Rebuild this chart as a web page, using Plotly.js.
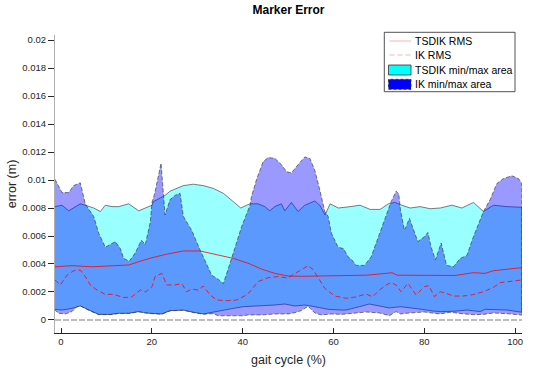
<!DOCTYPE html>
<html>
<head>
<meta charset="utf-8">
<script src="https://cdn.plot.ly/plotly-3.0.1.min.js"></script>
<style>html,body{margin:0;padding:0;background:#fff;}#chart{width:537px;height:375px;}</style>
</head>
<body>
<div id="chart"></div>
<script>
// ---- data (gait cycle %, error in m) ----
const gTsMax = [-1.32,0.22,1.70,3.15,4.25,5.35,7.20,8.66,9.76,11.23,12.71,14.91,17.11,18.57,20.04,20.33,22.91,24.01,26.94,29.14,31.34,33.55,35.75,37.95,39.58,40.90,41.63,43.39,44.87,45.97,47.07,48.52,49.27,50.73,52.20,53.68,55.88,56.98,58.15,59.25,61.08,63.66,65.86,68.06,70.26,72.09,73.50,75.04,76.87,79.07,81.28,83.48,86.06,88.26,90.81,93.02,95.22,98.17,101.48];
const tsdikMax = [0.0081,0.0082,0.0078,0.0081,0.0083,0.0082,0.0080,0.00775,0.0082,0.0081,0.0081,0.0083,0.0078,0.0080,0.0082,0.00845,0.0089,0.0092,0.0096,0.0097,0.0096,0.0094,0.00905,0.00845,0.0080,0.0082,0.0083,0.0083,0.0081,0.0078,0.0081,0.0083,0.0078,0.0084,0.00775,0.0082,0.0085,0.0082,0.0075,0.0083,0.0080,0.0081,0.0082,0.0079,0.0079,0.0083,0.0084,0.0082,0.0080,0.0081,0.00795,0.0080,0.0082,0.0080,0.0084,0.00775,0.0082,0.0081,0.00805];

const gTsMin = [-1.32,0.22,2.42,4.25,6.10,8.30,10.86,12.71,14.91,17.11,18.57,19.60,22.18,24.01,26.94,29.14,31.34,33.55,35.75,37.95,40.15,41.19,44.12,47.07,49.27,51.48,53.68,55.88,58.81,61.74,62.78,65.70,67.91,70.11,72.31,74.74,77.00,79.45,81.87,83.48,86.41,89.36,92.29,93.39,98.17,101.48];
const tsdikMin = [0.00076,0.00071,0.00083,0.0010,0.00071,0.0004,0.0004,0.00048,0.00048,0.0006,0.0005,0.00048,0.00043,0.00067,0.00071,0.00055,0.00043,0.00055,0.00071,0.00083,0.00095,0.00095,0.0010,0.00107,0.00114,0.0010,0.00107,0.00095,0.00076,0.00071,0.00071,0.00095,0.00114,0.0010,0.00086,0.00095,0.00086,0.00076,0.00064,0.0006,0.00062,0.00071,0.0006,0.00076,0.00071,0.00055];

const gIkMax = [-1.32,0.22,1.70,2.80,4.25,5.35,5.73,7.20,8.30,9.76,10.86,11.96,13.06,13.81,15.04,16.37,17.69,18.57,19.67,20.04,20.60,22.03,22.91,24.01,25.11,26.21,26.94,28.79,30.62,32.09,33.19,34.65,35.75,37.22,38.70,39.80,40.90,41.63,41.92,43.02,44.49,45.59,47.07,48.52,49.63,50.73,52.20,53.68,54.78,55.88,56.98,58.08,58.81,59.54,61.01,62.18,63.22,64.03,64.98,66.81,68.28,69.38,70.48,71.59,72.69,73.79,74.38,74.74,75.62,76.72,77.82,78.57,80.02,80.77,81.50,82.44,83.70,84.90,86.41,87.89,89.36,90.81,93.02,94.49,95.97,97.42,99.27,100.73,101.48];
const ikMax = [0.01005,0.0091,0.0091,0.0096,0.0098,0.0083,0.0081,0.0074,0.0062,0.0052,0.0054,0.0056,0.0051,0.0044,0.0042,0.0048,0.0057,0.0054,0.0070,0.0084,0.0090,0.0112,0.0075,0.0086,0.0089,0.00905,0.0074,0.0064,0.0050,0.0039,0.0032,0.0029,0.0026,0.00405,0.0055,0.0067,0.0076,0.0082,0.0088,0.0100,0.0113,0.0116,0.01155,0.0111,0.0106,0.0105,0.0111,0.01165,0.01155,0.0107,0.0093,0.00775,0.0074,0.0062,0.0052,0.0051,0.0045,0.0043,0.0039,0.0039,0.0045,0.0055,0.0064,0.0074,0.00845,0.0092,0.0090,0.00785,0.0064,0.00725,0.0063,0.0056,0.00595,0.00625,0.0052,0.0043,0.0055,0.0039,0.0038,0.0044,0.0046,0.00595,0.00775,0.0086,0.00975,0.0101,0.0103,0.0101,0.00975];

const gIkMin = [-1.32,-0.51,0.95,2.42,3.50,4.25,6.10,8.30,10.86,12.71,14.91,17.11,19.60,22.18,24.01,26.94,29.14,31.34,33.55,34.65,37.95,40.15,41.19,44.12,47.07,50.00,51.48,52.93,54.41,55.88,57.33,59.54,61.74,62.78,64.98,67.18,70.11,72.31,73.79,74.74,76.72,80.02,83.33,85.68,88.26,90.81,93.02,95.22,98.17,101.48];
const ikMin = [0.0007,0.00048,0.00043,0.0006,0.00095,0.0010,0.00069,0.00038,0.00038,0.00046,0.00046,0.00058,0.00046,0.00041,0.00065,0.00069,0.00053,0.00041,0.00045,0.0003,0.0003,0.0003,0.00036,0.00036,0.00043,0.00043,0.00052,0.00067,0.00098,0.0005,0.00036,0.00043,0.0004,0.00043,0.0005,0.00057,0.0005,0.00031,0.0006,0.00043,0.0005,0.00057,0.00043,0.00055,0.00045,0.00038,0.0004,0.0005,0.00045,0.00035];

const gTsRms = [-1.32,2.42,6.83,11.23,14.91,17.84,20.04,23.28,26.94,30.62,34.30,37.95,41.63,44.12,47.07,50.00,52.93,55.88,59.54,62.78,67.18,71.59,72.90,74.00,79.00,83.48,86.80,90.81,93.39,95.22,98.17,101.48];
const tsdikRms = [0.0038,0.00388,0.0038,0.00385,0.00393,0.00424,0.00445,0.0047,0.00493,0.00493,0.00469,0.0044,0.0040,0.00364,0.00333,0.00314,0.00312,0.00314,0.00314,0.0032,0.0032,0.00333,0.00338,0.0032,0.0032,0.0032,0.00318,0.00338,0.00333,0.00352,0.00364,0.00374];

const gIkRms = [-1.32,-0.15,1.32,2.80,4.25,5.35,6.45,7.93,9.76,11.60,13.81,15.60,17.47,18.60,20.04,20.70,22.18,23.28,25.00,26.59,27.69,28.80,30.20,31.34,32.82,34.30,36.50,38.70,40.53,41.63,43.39,45.59,47.80,50.00,52.20,54.41,55.50,56.61,58.08,60.29,62.78,65.00,67.18,68.60,70.11,71.59,72.69,73.79,74.90,76.37,78.19,80.02,81.00,82.22,83.48,84.80,86.41,88.50,90.60,93.02,95.22,96.70,98.90,101.48];
const ikRms = [0.00286,0.0025,0.0032,0.00352,0.00357,0.0031,0.0025,0.00214,0.00183,0.00183,0.0016,0.00165,0.00214,0.0020,0.00238,0.0031,0.00333,0.0025,0.0025,0.0026,0.00202,0.0022,0.00214,0.00243,0.00179,0.00143,0.00138,0.00143,0.00174,0.00202,0.00274,0.00302,0.0031,0.0030,0.00345,0.00388,0.0036,0.00298,0.00226,0.00171,0.00155,0.00165,0.00186,0.00165,0.00214,0.0025,0.00267,0.0025,0.00202,0.00262,0.00179,0.00238,0.00245,0.00167,0.00202,0.0019,0.00171,0.00171,0.0018,0.00202,0.00233,0.00267,0.00274,0.00286];

const baseline = [0, 0];
const xTicks = [0, 20, 40, 60, 80, 100];
const xTickText = ['0', '20', '40', '60', '80', '100'];
const yTicks = [0, 0.002, 0.004, 0.006, 0.008, 0.01, 0.012, 0.014, 0.016, 0.018, 0.02];
const yTickText = ['0', '0.002', '0.004', '0.006', '0.008', '0.01', '0.012', '0.014', '0.016', '0.018', '0.02'];
const legendLabels = ['TSDIK RMS', 'IK RMS', 'TSDIK min/max area', 'IK min/max area'];

// ---- build ----
const FONT = 'Liberation Sans, Arial, Helvetica, sans-serif';
const rev = a => a.slice().reverse();
const xEnds = [gTsMax[0], gTsMax[gTsMax.length - 1]];

const traces = [
  { x: gTsMax.concat(rev(gTsMin)), y: tsdikMax.concat(rev(tsdikMin)), mode: 'lines', fill: 'toself',
    fillcolor: 'rgba(0,255,255,0.4)', line: { color: '#2a2a2a', width: 0.6 }, hoverinfo: 'skip', showlegend: false },
  { x: gIkMax.concat(rev(gIkMin)), y: ikMax.concat(rev(ikMin)), mode: 'lines', fill: 'toself',
    fillcolor: 'rgba(0,0,255,0.4)', line: { color: '#2a2a2a', width: 0.6, dash: '4px,2px' }, hoverinfo: 'skip', showlegend: false },
  { x: xEnds, y: baseline, mode: 'lines', line: { color: '#a8a8a8', width: 1.5, dash: '6px,2px' }, hoverinfo: 'skip', showlegend: false },
  { x: gTsRms, y: tsdikRms, mode: 'lines', line: { color: 'rgb(255,0,0)', width: 0.8 }, hoverinfo: 'skip', showlegend: false },
  { x: gIkRms, y: ikRms, mode: 'lines', line: { color: 'rgb(255,0,0)', width: 0.8, dash: '5px,3px' }, hoverinfo: 'skip', showlegend: false }
];

// plot area in pixels
const L = 55, R = 522, T = 35, B = 333;
const px = v => (v - L) / (R - L);
const py = v => (B - v) / (B - T);

const shapes = [
  { type: 'rect', xref: 'paper', yref: 'paper', x0: px(384.3), x1: px(515), y0: py(91.7), y1: py(32.3),
    line: { color: '#262626', width: 0.8 }, fillcolor: '#ffffff', layer: 'above' },
  { type: 'line', xref: 'paper', yref: 'paper', x0: px(389.5), x1: px(411), y0: py(41), y1: py(41),
    line: { color: 'rgba(255,0,0,0.3)', width: 1 }, layer: 'above' },
  { type: 'line', xref: 'paper', yref: 'paper', x0: px(389.5), x1: px(411), y0: py(55), y1: py(55),
    line: { color: 'rgba(255,0,0,0.3)', width: 1, dash: '5px,3px' }, layer: 'above' },
  { type: 'rect', xref: 'paper', yref: 'paper', x0: px(388.5), x1: px(411), y0: py(75), y1: py(65),
    line: { color: '#333333', width: 0.8 }, fillcolor: 'rgb(0,255,255)', layer: 'above' },
  { type: 'rect', xref: 'paper', yref: 'paper', x0: px(388.5), x1: px(411), y0: py(89.3), y1: py(79.3),
    line: { color: '#222222', width: 0.8, dash: '3px,2px' }, fillcolor: 'rgb(0,0,255)', layer: 'above' }
];
const legendY = [41, 55, 70, 84.3];
const annotations = legendLabels.map((t, i) => ({
  text: t, xref: 'paper', yref: 'paper', x: px(413.3), y: py(legendY[i]), xanchor: 'left', yanchor: 'middle',
  showarrow: false, font: { family: FONT, size: 10.5, color: '#000' }
}));

const layout = {
  width: 537, height: 375,
  margin: { l: L, r: 537 - R, t: T, b: 375 - B, pad: 0 },
  paper_bgcolor: '#fff', plot_bgcolor: '#fff',
  font: { family: FONT, color: '#262626' },
  title: { text: '<b>Marker Error</b>', font: { family: FONT, size: 12, color: '#000' },
           xref: 'paper', x: 0.5, xanchor: 'center', yref: 'container', y: 1 - 10 / 375, yanchor: 'middle' },
  showlegend: false,
  xaxis: { range: [-1.32, 101.5], tickvals: xTicks, ticktext: xTickText, ticks: 'inside', ticklen: 5,
           tickcolor: '#262626', tickwidth: 1, showline: true, linecolor: '#262626', linewidth: 1,
           showgrid: false, zeroline: false, tickfont: { family: FONT, size: 9.5, color: '#262626' },
           title: { text: 'gait cycle (%)', font: { family: FONT, size: 12.5, color: '#262626' }, standoff: 8 } },
  yaxis: { range: [-0.00093, 0.02036], tickvals: yTicks, ticktext: yTickText, ticks: 'outside', ticklen: 6,
           tickcolor: '#262626', tickwidth: 1, showline: true, linecolor: '#b0b0b0', linewidth: 1,
           showgrid: false, zeroline: false, tickfont: { family: FONT, size: 9.5, color: '#262626' },
           title: { text: 'error (m)', font: { family: FONT, size: 12.5, color: '#262626' }, standoff: 2 } },
  shapes: shapes, annotations: annotations
};

Plotly.newPlot('chart', traces, layout, { displayModeBar: false, staticPlot: true });
</script>
</body>
</html>
